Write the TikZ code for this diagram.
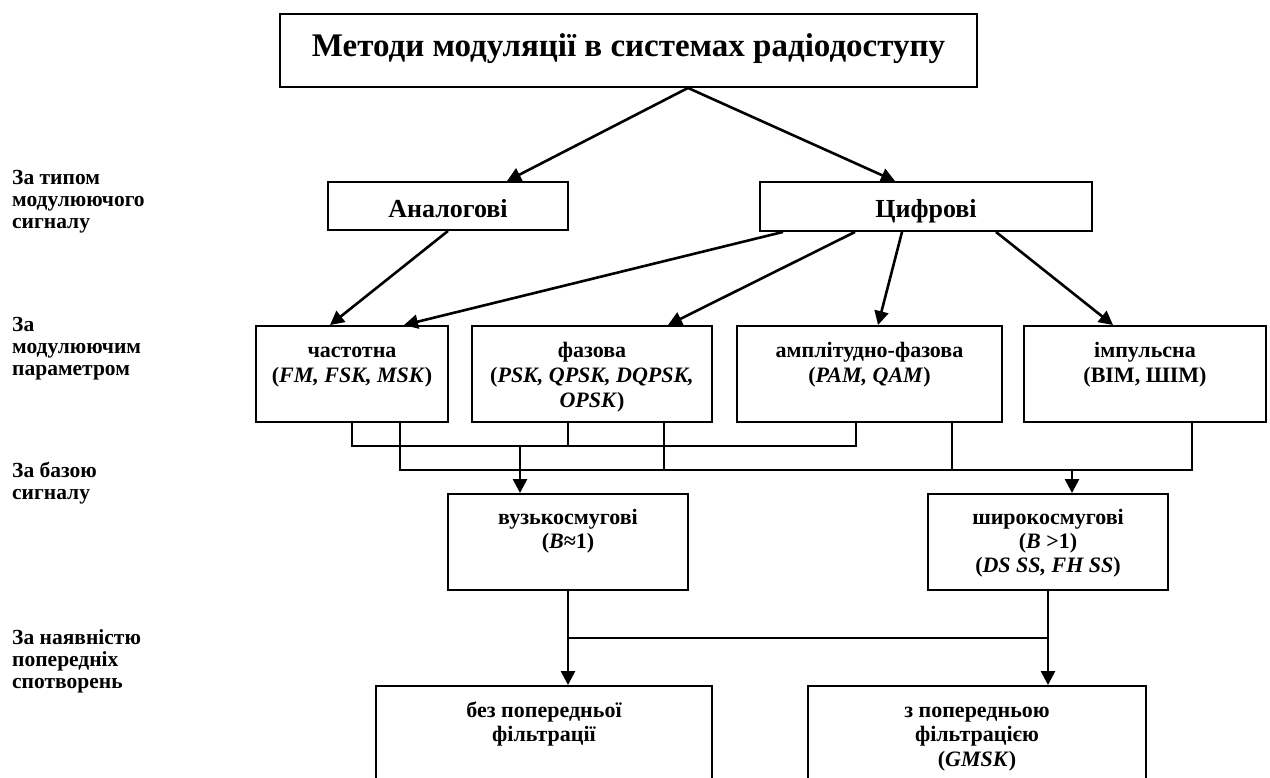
\documentclass[tikz,border=0pt]{standalone}
\usepackage{fontspec}
\setmainfont{Liberation Serif}
\usetikzlibrary{arrows.meta}
% centred and left-aligned multi-line labels, aligned on the first baseline
\newcommand\ctrlines[1]{\begin{tabular}[t]{@{}c@{}}#1\end{tabular}}
\newcommand\leftlines[1]{\begin{tabular}[t]{@{}l@{}}#1\end{tabular}}
\begin{document}
\begin{tikzpicture}[x=1pt,y=-1pt,
  box/.style={draw, line width=1.9pt, inner sep=0pt},
  link/.style={line width=2.6pt, -{Triangle[length=14pt,width=14pt]}},
  bus/.style={line width=2pt},
  txt/.style={anchor=base, inner sep=0pt, font=\fontsize{22}{25.5}\selectfont\bfseries},
  side/.style={anchor=base west, inner sep=0pt, font=\fontsize{21.5}{22}\selectfont\bfseries},
]
\useasboundingbox (0,0) rectangle (1270,778);
\clip (0,0) rectangle (1270,778);

% ---- boxes ----
\node[box, minimum width=697pt, minimum height=73pt] (ttl) at (628.5,50.5) {};
\node[box, minimum width=240pt, minimum height=48pt] (anl) at (448,206) {};
\node[box, minimum width=332pt, minimum height=49pt] (dig) at (926,206.5) {};
\node[box, minimum width=192pt, minimum height=96pt] (frq) at (352,374) {};
\node[box, minimum width=240pt, minimum height=96pt] (phs) at (592,374) {};
\node[box, minimum width=265pt, minimum height=96pt] (amp) at (869.5,374) {};
\node[box, minimum width=242pt, minimum height=96pt] (imp) at (1145,374) {};
\node[box, minimum width=240pt, minimum height=96pt] (nar) at (568,542) {};
\node[box, minimum width=240pt, minimum height=96pt] (wid) at (1048,542) {};
\node[box, minimum width=336pt, minimum height=115pt] (nof) at (544,743.5) {};
\node[box, minimum width=338pt, minimum height=115pt] (flt) at (977,743.5) {};

% ---- box texts ----
\node[txt, font=\fontsize{33}{38}\selectfont\bfseries] (ttlt) at (628.5,57)
  {Методи модуляції в системах радіодоступу};
\node[txt, font=\fontsize{26}{30}\selectfont\bfseries] (anlt) at (448,218) {Аналогові};
\node[txt, font=\fontsize{26}{30}\selectfont\bfseries] (digt) at (926,218) {Цифрові};
\node[txt] (frqt) at (352,357) {\ctrlines{частотна\\(\textit{FM, FSK, MSK})}};
\node[txt] (phst) at (592,357) {\ctrlines{фазова\\(\textit{PSK, QPSK, DQPSK,}\\\textit{OPSK})}};
\node[txt] (ampt) at (869.5,357) {\ctrlines{амплітудно-фазова\\(\textit{PAM, QAM})}};
\node[txt] (impt) at (1145,357) {\ctrlines{імпульсна\\(ВІМ, ШІМ)}};
\node[txt, font=\fontsize{22}{24}\selectfont\bfseries] (nart) at (568,524)
  {\ctrlines{вузькосмугові\\(\textit{B}≈1)}};
\node[txt, font=\fontsize{22}{24}\selectfont\bfseries] (widt) at (1048,524)
  {\ctrlines{широкосмугові\\(\textit{B} >1)\\(\textit{DS SS, FH SS})}};
\node[txt, font=\fontsize{22}{24.5}\selectfont\bfseries] (noft) at (544,717)
  {\ctrlines{без попередньої\\фільтрації}};
\node[txt, font=\fontsize{22}{24.5}\selectfont\bfseries] (fltt) at (977,717)
  {\ctrlines{з попередньою\\фільтрацією\\(\textit{GMSK})}};

% ---- classification criteria ----
\node[side] (c1) at (12,185) {\leftlines{За типом\\модулюючого\\сигналу}};
\node[side] (c2) at (12,331) {\leftlines{За\\модулюючим\\параметром}};
\node[side] (c3) at (12,477) {\leftlines{За базою\\сигналу}};
\node[side] (c4) at (12,644) {\leftlines{За наявністю\\попередніх\\спотворень}};

% ---- tree arrows ----
\draw[link] ([xshift=59.5pt]ttl.south) -- ([xshift=59pt]anl.north);
\draw[link] ([xshift=59.5pt]ttl.south) -- ([xshift=-31pt]dig.north);
\draw[link] (anl.south) -- ([xshift=-22pt]frq.north);
\draw[link] ([xshift=-143pt]dig.south) -- ([xshift=52pt]frq.north);
\draw[link] ([xshift=-71pt]dig.south) -- ([xshift=76pt]phs.north);
\draw[link] ([xshift=-24pt]dig.south) -- ([xshift=8.5pt]amp.north);
\draw[link] ([xshift=70pt]dig.south) -- ([xshift=-32pt]imp.north);

% ---- collecting buses ----
\coordinate (busA) at (0,446);
\coordinate (busB) at (0,470);
\coordinate (busC) at (0,638);

\draw[bus] (frq.south) -- (frq.south |- busA)
  -- ([xshift=-13.5pt]amp.south |- busA) -- ([xshift=-13.5pt]amp.south);
\draw[bus] ([xshift=-24pt]phs.south) -- ([xshift=-24pt]phs.south |- busA);
\draw[link] ([xshift=-48pt]nar.north |- busA) -- ([xshift=-48pt]nar.north);

\draw[bus] ([xshift=48pt]frq.south) -- ([xshift=48pt]frq.south |- busB)
  -- ([xshift=47pt]imp.south |- busB) -- ([xshift=47pt]imp.south);
\draw[bus] ([xshift=72pt]phs.south) -- ([xshift=72pt]phs.south |- busB);
\draw[bus] ([xshift=82.5pt]amp.south) -- ([xshift=82.5pt]amp.south |- busB);
\draw[link] ([xshift=24pt]wid.north |- busB) -- ([xshift=24pt]wid.north);

\draw[bus] (nar.south) -- (nar.south |- busC) -- (wid.south |- busC) -- (wid.south);
\draw[link] (nar.south |- busC) -- (nar.south |- nof.north);
\draw[link] (wid.south |- busC) -- (wid.south |- flt.north);
\end{tikzpicture}
\end{document}
